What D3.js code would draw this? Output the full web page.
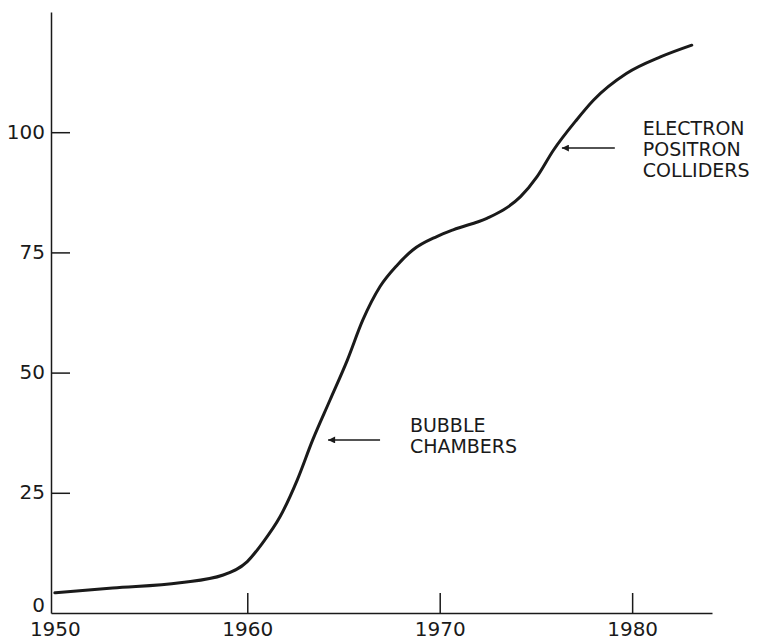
<!DOCTYPE html>
<html>
<head>
<meta charset="utf-8">
<script src="https://cdn.jsdelivr.net/npm/d3@7"></script>
<style>
  body { margin: 0; background: #fff; }
  text { font-family: "DejaVu Sans", sans-serif; fill: #1a1a1a; }
</style>
</head>
<body>
<script>
// values
let years = [1950, 1953, 1956.5, 1958.75, 1960, 1960.8, 1961.7, 1962.6, 1963.4, 1964.3, 1965.2, 1966,
    1966.9, 1967.8, 1968.6, 1969.85, 1970.7, 1972.45, 1973.3, 1974.2, 1975.05, 1975.9,
    1977.1, 1978, 1979.7, 1981.5, 1983.1];
let values = [4.2, 5.2, 6.3, 7.9, 10.7, 14.6, 20, 27.7, 36, 44.3, 52.6, 60.9,
    67.9, 72.4, 75.5, 78.3, 79.7, 82.1, 83.8, 86.6, 90.7, 96.2,
    102.5, 106.7, 112.2, 115.7, 118.1];
let xTicks = [1950, 1960, 1970, 1980];
let yTicks = [0, 25, 50, 75, 100];

// annotations: arrow tail/tip in data units, label lines
let notes = [
    {from: [1966.9, 36], to: [1964.2, 36], text: [1968.45, 37.6], lines: ["BUBBLE", "CHAMBERS"]},
    {from: [1979.1, 96.7], to: [1976.35, 96.7], text: [1980.55, 99.5], lines: ["ELECTRON", "POSITRON", "COLLIDERS"]}
];

let width = 771;
let height = 642;
let ink = "#1a1a1a";

let svg = d3.select("body").append("svg").attr("width", width).attr("height", height);

let x = d3.scaleLinear().domain([1949.8, 1984.15]).range([51, 712]);
let y = d3.scaleLinear().domain([0, 125]).range([613, 12]);

svg.append("defs").append("marker")
    .attr("id", "head")
    .attr("viewBox", "0 0 10 10")
    .attr("refX", 10).attr("refY", 5)
    .attr("markerWidth", 13).attr("markerHeight", 7)
    .attr("markerUnits", "userSpaceOnUse")
    .attr("orient", "auto")
    .append("path")
    .attr("d", "M0,0L10,5L0,10Z")
    .attr("fill", ink);

// x axis
let xAxis = svg.append("g")
    .attr("transform", `translate(0,${y(0)})`)
    .call(d3.axisBottom(x).tickValues(xTicks).tickFormat(d3.format("d"))
        .tickSizeInner(-20).tickSizeOuter(0).tickPadding(9));
xAxis.selectAll("text").attr("font-size", 20).attr("dy", "0.72em");
xAxis.selectAll(".tick line").attr("stroke", ink).attr("stroke-width", 1.5)
    .filter(d => d === 1950).remove();
xAxis.select(".domain").attr("stroke", ink).attr("stroke-width", 1.5);

// y axis
let yAxis = svg.append("g")
    .attr("transform", `translate(${x(1949.8)},0)`)
    .call(d3.axisLeft(y).tickValues(yTicks)
        .tickSizeInner(-19).tickSizeOuter(0).tickPadding(6));
yAxis.selectAll("text").attr("font-size", 20).attr("dy", d => d === 0 ? "-0.1em" : "0.3em");
yAxis.selectAll(".tick line").attr("stroke", ink).attr("stroke-width", 1.5)
    .filter(d => d === 0).remove();
yAxis.select(".domain").attr("stroke", ink).attr("stroke-width", 1.5);

// curve
let line = d3.line()
    .x((d, i) => x(years[i]))
    .y(d => y(d))
    .curve(d3.curveMonotoneX);

svg.append("path")
    .datum(values)
    .attr("fill", "none")
    .attr("stroke", ink)
    .attr("stroke-width", 3)
    .attr("stroke-linecap", "round")
    .attr("d", line);

// annotations, one text per line
notes.forEach(n => {
    svg.append("line")
        .attr("x1", x(n.from[0])).attr("y1", y(n.from[1]))
        .attr("x2", x(n.to[0])).attr("y2", y(n.to[1]))
        .attr("stroke", ink)
        .attr("stroke-width", 1.5)
        .attr("marker-end", "url(#head)");
    svg.append("g")
        .selectAll("text")
        .data(n.lines)
        .join("text")
        .attr("x", x(n.text[0]))
        .attr("y", (d, i) => y(n.text[1]) + i * 21)
        .attr("font-size", 19)
        .text(d => d);
});
</script>
</body>
</html>
